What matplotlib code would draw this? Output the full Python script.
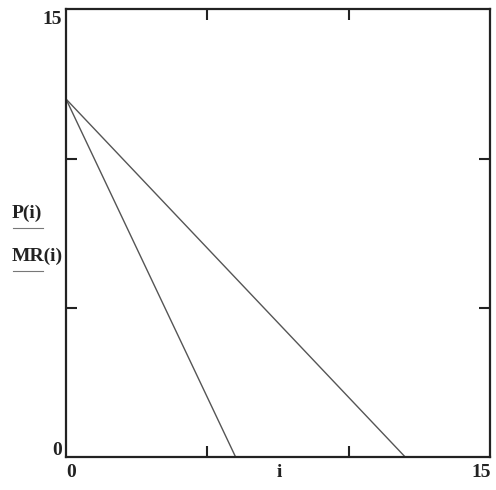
import matplotlib
matplotlib.use("Agg")
import matplotlib.pyplot as plt

# data
i_p = [0, 12]
P = [12, 0]
i_mr = [0, 6]
MR = [12, 0]
axis_min, axis_max = 0, 15
tick_vals = [5, 10]

fig = plt.figure(figsize=(4.96, 4.90), dpi=100)
ax = fig.add_axes([66/496, 1 - 457/490, (490 - 66)/496, (457 - 9.5)/490])

ax.plot(i_p, P, color='#555555', lw=1.0)
ax.plot(i_mr, MR, color='#555555', lw=1.0)

ax.set_xlim(axis_min, axis_max)
ax.set_ylim(axis_min, axis_max)
ax.set_xticks(tick_vals)
ax.set_yticks(tick_vals)
ax.set_xticklabels([])
ax.set_yticklabels([])
ax.tick_params(direction='in', length=8, width=1.5, top=True, right=True, colors='#222222')
for s in ax.spines.values():
    s.set_linewidth(1.6)
    s.set_color('#222222')

font = dict(family='Liberation Serif', fontsize=14, fontweight='bold', color='#222222')
# y range labels
fig.text(62/496, 1 - 20/490, str(axis_max), ha='right', va='center', **font)
fig.text(62/496, 1 - 450/490, str(axis_min), ha='right', va='center', **font)
# x range labels
fig.text(66/496, 1 - 472/490, str(axis_min), ha='left', va='center', **font)
fig.text(491/496, 1 - 472/490, str(axis_max), ha='right', va='center', **font)
fig.text(279/496, 1 - 472/490, 'i', ha='center', va='center', **font)

# y-axis variable labels with trace underlines
fig.text(12/496, 1 - 213/490, 'P(i)', ha='left', va='center', **font)
fig.add_artist(plt.Line2D([13/496, 43/496], [1 - 228/490, 1 - 228/490], color='#777777', lw=0.8))
fig.text(12/496, 1 - 256/490, 'MR(i)', ha='left', va='center', **font)
fig.add_artist(plt.Line2D([13/496, 43/496], [1 - 271/490, 1 - 271/490], color='#777777', lw=0.8))

fig.savefig('out.png', dpi=100, facecolor='white')
